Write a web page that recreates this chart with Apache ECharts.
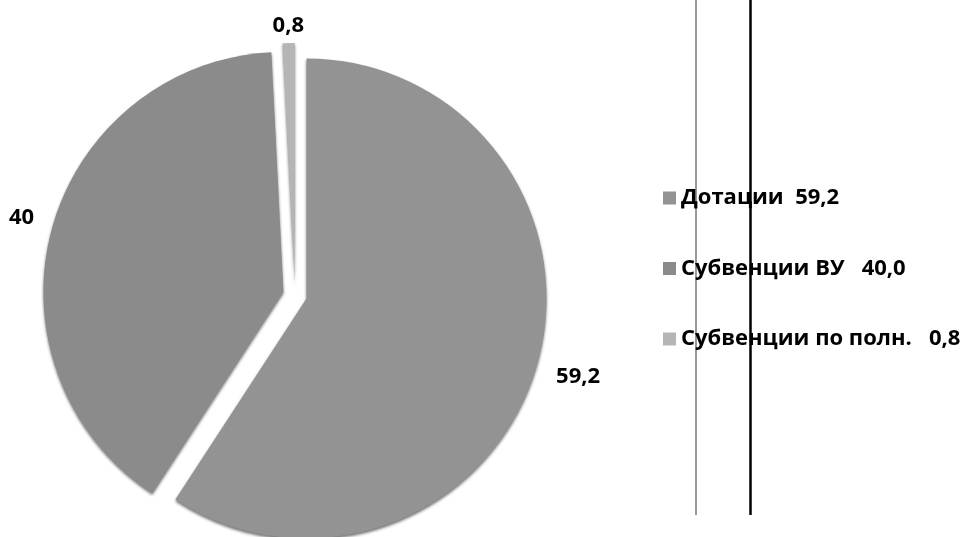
<!DOCTYPE html>
<html>
<head>
<meta charset="utf-8">
<script src="https://cdn.jsdelivr.net/npm/echarts@6/dist/echarts.min.js"></script>
<style>
html,body{margin:0;padding:0;background:#fff;}
#chart{width:965px;height:537px;}
</style>
</head>
<body>
<div id="chart"></div>
<script>
const categories = ['Дотации', 'Субвенции ВУ', 'Субвенции по полн.'];
const values = [59.2, 40, 0.8];
const legendLabels = ['Дотации  59,2', 'Субвенции ВУ   40,0', 'Субвенции по полн.   0,8'];
const sliceColors = ['#939393', '#8b8b8b', '#b5b5b5'];

const FONT = '"Open Sans"';
const chart = echarts.init(document.getElementById('chart'));
const legendMap = {};
categories.forEach((c, i) => { legendMap[c] = legendLabels[i]; });

chart.setOption({
  backgroundColor: '#ffffff',
  animation: false,
  legend: {
    orient: 'vertical',
    left: 658,
    top: 182,
    itemWidth: 13,
    itemHeight: 13,
    itemGap: 48.5,
    icon: 'rect',
    data: categories,
    formatter: name => legendMap[name],
    textStyle: { fontFamily: FONT, fontWeight: 'bold', fontSize: 22, color: '#000', padding: [0, 0, 0, 0] }
  },
  graphic: [
    { type: 'line', shape: { x1: 696, y1: 0, x2: 696, y2: 515 }, style: { stroke: '#777', lineWidth: 1.5 } },
    { type: 'line', shape: { x1: 750.5, y1: 0, x2: 750.5, y2: 515 }, style: { stroke: '#000', lineWidth: 2.5 } }
  ],
  series: [{
    type: 'pie',
    center: [295, 295],
    radius: 240,
    startAngle: 90,
    clockwise: true,
    selectedMode: 'multiple',
    selectedOffset: 12,
    avoidLabelOverlap: false,
    emphasis: { disabled: true },
    select: { itemStyle: { borderWidth: 0 } },
    itemStyle: { shadowColor: 'rgba(0,0,0,0.55)', shadowBlur: 3, shadowOffsetY: 2 },
    label: {
      show: true,
      position: 'outside',
      fontFamily: FONT,
      fontWeight: 'bold',
      fontSize: 22,
      color: '#000',
      formatter: p => String(p.value).replace('.', ',')
    },
    labelLine: { show: false },
    labelLayout: function (p) {
      if (p.dataIndex === 0) return { dy: 6 };
      if (p.dataIndex === 1) return { dy: -8 };
      return { align: 'center', dx: 5, dy: -1 };
    },
    data: categories.map((c, i) => ({
      name: c,
      value: values[i],
      selected: true,
      itemStyle: { color: sliceColors[i] },
      labelLine: { length: [12, 13, 16][i], length2: [3, 0, 0][i] }
    }))
  }]
});
</script>
</body>
</html>
